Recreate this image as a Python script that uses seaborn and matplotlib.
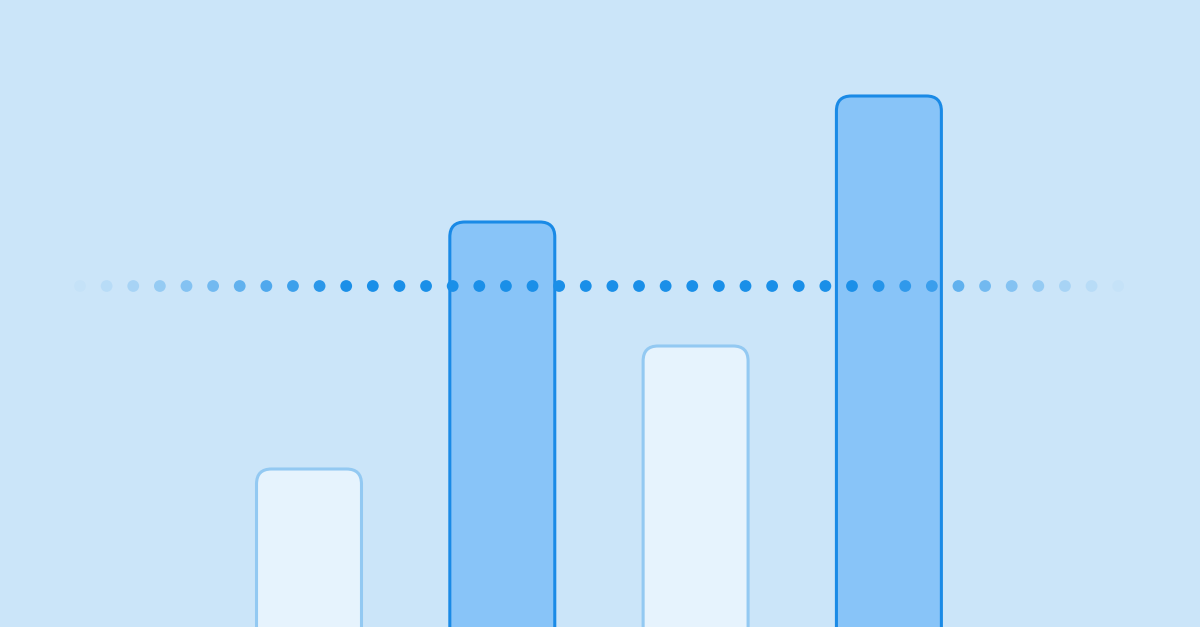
import numpy as np
import pandas as pd
import matplotlib
matplotlib.use("Agg")
import matplotlib.pyplot as plt
import seaborn as sns
from matplotlib.patches import FancyBboxPatch

# values (pixel height above the bottom edge)
categories = ["A", "B", "C", "D"]
values = [158, 405, 281, 531]
highlight = [False, True, False, True]
target = 341

bg = "#cbe5f9"
light_fill, light_edge = "#e6f3fd", "#93c9f2"
dark_fill, dark_edge = "#88c4f8", "#1a8ae6"
dot_color = "#1a8fe8"

df = pd.DataFrame({"cat": categories, "val": values})

sns.set_style("white")
fig = plt.figure(figsize=(12, 6.27), dpi=100)
fig.patch.set_facecolor(bg)
ax = fig.add_axes([0, 0, 1, 1])
ax.set_facecolor(bg)

sns.barplot(data=df, x="cat", y="val", width=0.543, ax=ax)

# category units -> pixels: centre of first bar at 309px, step 193.3px
step = 193.3
ax.set_xlim(-309 / step, (1200 - 309) / step)
ax.set_ylim(0, 627)

# swap the plain bars for ones with rounded tops
bars = list(ax.patches)
for bar, hl in zip(bars, highlight):
    x, w, h = bar.get_x(), bar.get_width(), bar.get_height()
    bar.remove()
    box = FancyBboxPatch(
        (x, -40), w, h + 40,
        boxstyle=f"round,pad=0,rounding_size={15 / step}",
        mutation_aspect=step,
        facecolor=dark_fill if hl else light_fill,
        edgecolor=dark_edge if hl else light_edge,
        linewidth=2.2, zorder=2,
    )
    ax.add_patch(box)

# dotted target line, fading out towards both ends
n = 40
xs = (80 + 26.62 * np.arange(n) - 309) / step
fade = 10
alphas = np.clip(np.minimum(np.arange(n), n - 1 - np.arange(n)) / fade, 0.03, 1.0)
colors = [matplotlib.colors.to_rgba(dot_color, a) for a in alphas]
ax.scatter(xs, np.full(n, target), s=72, c=colors, linewidths=0, zorder=3)

ax.set_axis_off()
fig.savefig("out.png", dpi=100, facecolor=bg)
